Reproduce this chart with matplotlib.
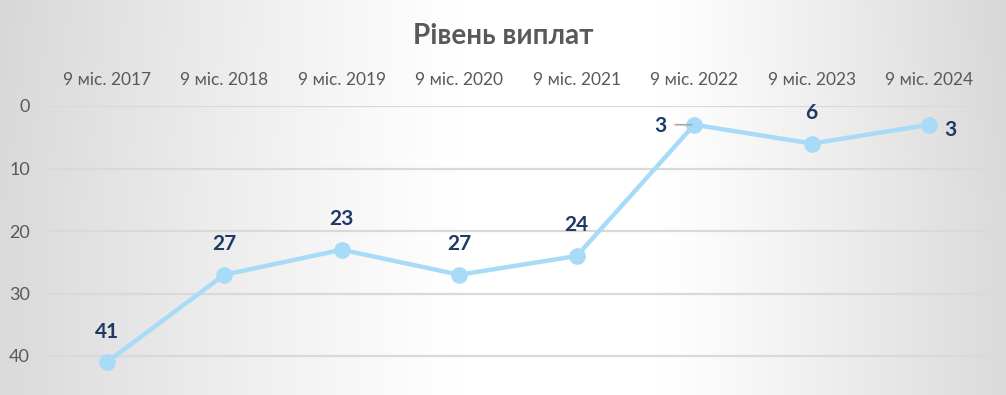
import numpy as np
import matplotlib.pyplot as plt

# ============================================================
# DATA
# ============================================================
PERIODS = ["9 міс. 2017", "9 міс. 2018", "9 міс. 2019", "9 міс. 2020",
           "9 міс. 2021", "9 міс. 2022", "9 міс. 2023", "9 міс. 2024"]
RANKS = [41, 27, 23, 27, 24, 3, 6, 3]
Y_TICKS = [0, 10, 20, 30, 40]

TITLE = "Рівень виплат"

# ============================================================
# STYLE
# ============================================================
LINE_COLOR = "#a7dbf7"
LABEL_COLOR = "#1f3864"
TEXT_GREY = "#595959"
GRID_COLOR = "#d9d9d9"
W, H, DPI = 1006, 395, 100

plt.rcParams['font.family'] = ['Lato', 'DejaVu Sans']

fig = plt.figure(figsize=(W / DPI, H / DPI), dpi=DPI)

# background: grey at the sides, white in the middle
bg = fig.add_axes([0, 0, 1, 1], zorder=0)
xx, yy = np.meshgrid(np.arange(W), np.arange(H))
left = np.clip((460 - xx) / 460, 0, 1)
right = np.clip((xx - 660) / 346, 0, 1)
d = np.maximum(left, right)
shade = 1 - 0.145 * d ** 1.1 - 0.01 * np.clip((200 - yy) / 200, 0, 1) * d
img = np.dstack([shade, shade, shade])
bg.imshow(img, aspect='auto', extent=[0, 1, 0, 1], origin='upper')
bg.axis('off')

# main axes: top at value 0 (y=106px), bottom at figure edge
ax_left, ax_right = 48 / W, 988 / W
ax = fig.add_axes([ax_left, 0, ax_right - ax_left, (H - 106) / H], zorder=1)
ax.patch.set_alpha(0)

x = np.arange(len(PERIODS))
ax.plot(x, RANKS, color=LINE_COLOR, linewidth=3.2, marker='o',
        markersize=11, markerfacecolor=LINE_COLOR, markeredgecolor=LINE_COLOR,
        solid_capstyle='round', zorder=3)

ax.set_xlim(-0.5, len(PERIODS) - 0.5)
ax.set_ylim((H - 106) / 6.25, 0)
ax.set_yticks(Y_TICKS)
ax.set_xticks(x)
ax.set_xticklabels(PERIODS)
ax.xaxis.tick_top()
ax.tick_params(axis='x', length=0, pad=13, labelsize=12.5, labelcolor=TEXT_GREY)
ax.tick_params(axis='y', length=0, pad=13, labelsize=13, labelcolor=TEXT_GREY)
ax.grid(axis='y', color=GRID_COLOR, linewidth=1.6)
ax.set_axisbelow(True)
for s in ax.spines.values():
    s.set_visible(False)

# data labels
for i, v in enumerate(RANKS):
    if i == 5:
        ax.annotate(str(v), (i, v), xytext=(-20, -1), textcoords='offset points',
                    ha='right', va='center', fontsize=15, fontweight='bold',
                    color=LABEL_COLOR)
        ax.annotate("", (i - 0.02, v), xytext=(-12, 0), textcoords='offset points',
                    arrowprops=dict(arrowstyle='-', color='#a6a6a6', lw=1.2,
                                    shrinkA=0, shrinkB=0))
    elif i == len(RANKS) - 1:
        ax.annotate(str(v), (i, v), xytext=(11, -4), textcoords='offset points',
                    ha='left', va='center', fontsize=15, fontweight='bold',
                    color=LABEL_COLOR)
    else:
        ax.annotate(str(v), (i, v), xytext=(0, 22), textcoords='offset points',
                    ha='center', va='center', fontsize=15, fontweight='bold',
                    color=LABEL_COLOR)

fig.text(0.5, 1 - 36 / H, TITLE, ha='center', va='center', fontsize=20,
         fontweight='bold', color=TEXT_GREY)

fig.savefig("out.png", dpi=DPI)
